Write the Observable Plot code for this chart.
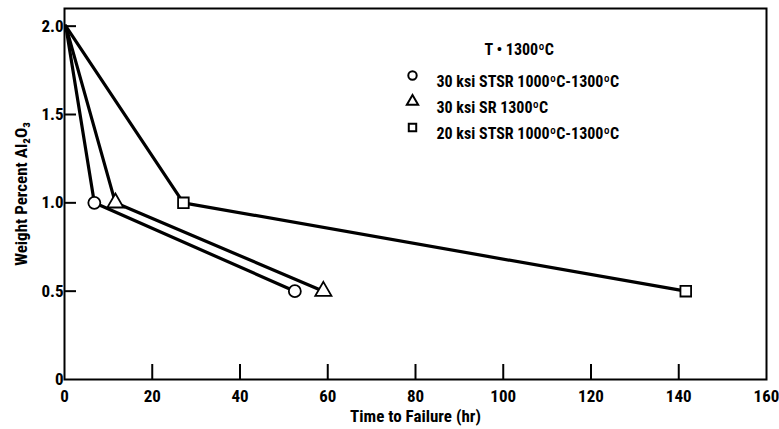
<!DOCTYPE html>
<html><head><meta charset="utf-8">
<script src="https://cdn.jsdelivr.net/npm/d3@7"></script>
<script src="https://cdn.jsdelivr.net/npm/@observablehq/plot@0.6"></script>
<style>body{margin:0;background:#fff}</style>
</head><body><div id="chart"></div>
<script>
const seriesNames = ["30 ksi STSR 1000ºC-1300ºC", "30 ksi SR 1300ºC", "20 ksi STSR 1000ºC-1300ºC"];
const symbols = ["circle", "triangle", "square"];
const weightPct = [2.0, 1.0, 0.5];
const timeCircle = [0.3, 6.8, 52.5];
const timeTriangle = [0.3, 11.6, 59.0];
const timeSquare = [0.3, 27.1, 141.6];
const xTicks = [0, 20, 40, 60, 80, 100, 120, 140, 160];
const yTicks = [0, 0.5, 1.0, 1.5, 2.0];
const legendTitle = "T • 1300ºC";

const times = [timeCircle, timeTriangle, timeSquare];
const data = [];
times.forEach((t, i) => t.forEach((v, j) => data.push({series: seriesNames[i], symbol: symbols[i], time: v, wt: weightPct[j]})));

const font = "'Roboto Condensed', 'DejaVu Sans Condensed', sans-serif";
const W = 779, H = 429, mL = 64, mR = 13, mT = 8, mB = 50;
const pw = W - mL - mR, ph = H - mT - mB;
const rowY = [67, 93, 119];

const legendMarks = seriesNames.flatMap((s, i) => [
  Plot.dot([symbols[i]], {frameAnchor: "top-left", dx: 348, dy: rowY[i], symbol: d => d, r: 4.2, stroke: "#000", strokeWidth: 2, fill: "#fff"}),
  Plot.text([s], {frameAnchor: "top-left", dx: 372, dy: rowY[i], text: d => d, textAnchor: "start", fontSize: 16, fontWeight: "bold", fontFamily: font, fill: "#000"})
]);

const chart = Plot.plot({
  width: W, height: H,
  marginLeft: mL, marginRight: mR, marginTop: mT, marginBottom: mB,
  style: {fontFamily: font, fontSize: "14px"},
  x: {domain: [0, 160]},
  y: {domain: [0, 2.1]},
  symbol: {domain: symbols, range: symbols},
  marks: [
    Plot.frame({stroke: "#000", strokeWidth: 2}),
    Plot.ruleX(xTicks.slice(1, -1), {x: d => d, y1: 0, y2: 15 * 2.1 / ph, stroke: "#000", strokeWidth: 2}),
    Plot.ruleY(yTicks.slice(1), {y: d => d, x1: 0, x2: 12 * 160 / pw, stroke: "#000", strokeWidth: 2}),
    Plot.axisX({ticks: xTicks, tickSize: 0, tickPadding: 10, fontSize: 17, fontWeight: "bold", label: "Time to Failure (hr)", labelAnchor: "center", labelArrow: "none", labelOffset: 42}),
    Plot.axisY({ticks: yTicks, tickSize: 0, tickPadding: 1, fontSize: 17, fontWeight: "bold", tickFormat: d => d === 0 ? "0" : d.toFixed(1), label: "Weight Percent Al₂O₃", labelAnchor: "center", labelArrow: "none", labelOffset: 50}),
    Plot.line(data, {x: "time", y: "wt", z: "series", stroke: "#000", strokeWidth: 3.2}),
    Plot.dot(data.filter(d => d.wt < 2), {x: "time", y: "wt", symbol: "symbol", r: 6, fill: "#fff", stroke: "#000", strokeWidth: 1.8}),
    Plot.text([legendTitle], {frameAnchor: "top-left", dx: 420, dy: 35, text: d => d, textAnchor: "start", fontSize: 16, fontWeight: "bold", fontFamily: font, fill: "#000"}),
    ...legendMarks
  ]
});
document.getElementById("chart").appendChild(chart);
</script></body></html>
